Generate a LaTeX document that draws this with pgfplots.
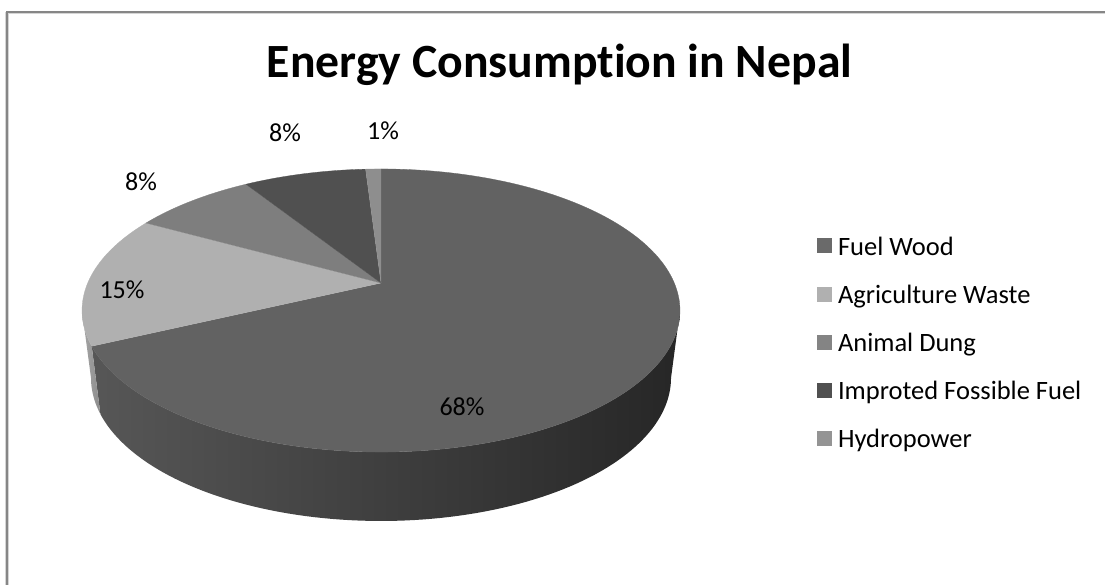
\documentclass[border=0pt]{standalone}
\usepackage{pgfplots}
\usepackage{pgfplotstable}
\usepackage{fontspec}
\setmainfont[Ligatures=NoCommon]{Carlito}
\pgfplotsset{compat=1.18}

% Shares of national energy use, clockwise from twelve o'clock
\pgfplotstableread{
value
68
15
8
8
1
}\shares

\definecolor{fuelwood}{HTML}{626262}
\definecolor{agriwaste}{HTML}{B0B0B0}
\definecolor{animaldung}{HTML}{7E7E7E}
\definecolor{fossil}{HTML}{505050}
\definecolor{hydro}{HTML}{8E8E8E}
\definecolor{framegray}{HTML}{868686}

% Perspective projection of the disc: far side is foreshortened
\def\persp{0.1943}

% Append points of a projected circular arc to a coordinate list.
% #1 list, #2 start angle, #3 end angle, #4 x radius, #5 y radius, #6 y centre
\newcommand\arcpoints[6]{%
  \pgfmathtruncatemacro\nseg{max(2,ceil(abs(#3-#2)/1.5))}%
  \foreach \i in {0,...,\nseg}{%
    \pgfmathsetmacro\ang{#2+(#3-#2)/\nseg*\i}%
    \pgfmathsetmacro\wgt{1+\persp*cos(\ang)}%
    \pgfmathsetmacro\ptx{381+#4*sin(\ang)/\wgt}%
    \pgfmathsetmacro\pty{#6-#5*cos(\ang)/\wgt}%
    \xdef#1{#1 (\ptx,\pty)}%
  }%
}
\gdef\cum{0}
% Build one wedge of the top face from a row of the table
\newcommand\buildslice[2]{%
  \pgfplotstablegetelem{#2}{value}\of\shares
  \pgfmathsetmacro\sliceend{\cum+3.6*\pgfplotsretval}%
  \gdef#1{(381,283)}%
  \arcpoints#1{\cum}{\sliceend}{293.3}{136.2}{283}%
  \xdef\cum{\sliceend}%
}
% Build one piece of the side wall between two angles
\newcommand\buildrim[3]{%
  \gdef#1{}%
  \arcpoints#1{#2}{#3}{293.3}{136.2}{283}%
  \arcpoints#1{#3}{#2}{284.5}{137.6}{350.2}%
}
\newcommand\plotlist[2]{%
  \edef\tmpplot{\noexpand\addplot[#1,forget plot] coordinates {#2};}\tmpplot
}

\begin{document}
\begin{tikzpicture}[x=1pt,y=1pt]
\buildslice\wedgeA{0}
\let\fuelend\cum
\buildslice\wedgeB{1}
\buildslice\wedgeC{2}
\buildslice\wedgeD{3}
\buildslice\wedgeE{4}
\buildrim\rimA{101.2}{\fuelend}
\buildrim\rimB{\fuelend}{258.8}
\path[use as bounding box] (0,0) rectangle (1105,585);
\begin{axis}[
  at={(0,0)}, anchor=south west,
  scale only axis, width=1105pt, height=585pt,
  xmin=0, xmax=1105, ymin=0, ymax=585, y dir=reverse,
  hide axis, clip=false,
  legend image code/.code={\fill[draw=none,#1] (0pt,-7.5pt) rectangle (15pt,7.5pt);},
  legend style={
    at={(axis cs:817,236.7)}, anchor=north west, draw=none, fill=none,
    inner sep=0pt, outer sep=0pt, font=\fontsize{26.5}{26.5}\selectfont,
    /tikz/row sep=29.7pt,
    nodes={inner sep=0pt, outer sep=0pt, text depth=0pt},
  },
  legend cell align=left,
]
% chart frame: top and left rules
\draw[framegray!35, line width=1pt] (axis cs:1105,13.5) -- (axis cs:8.5,13.5) -- (axis cs:8.5,585);
\draw[framegray!35, line width=1pt] (axis cs:5.5,585) -- (axis cs:5.5,12);
\draw[framegray, line width=2pt] (axis cs:1105,12) -- (axis cs:7,12) -- (axis cs:7,585);
% side wall
\plotlist{draw=none,left color=black!66,middle color=black!80,right color=black!85}{\rimA}
\plotlist{draw=none,left color=black!35,right color=black!45}{\rimB}
% top face
\plotlist{fill=fuelwood,draw=fuelwood,line width=0.3pt}{\wedgeA}
\plotlist{fill=agriwaste,draw=agriwaste,line width=0.3pt}{\wedgeB}
\plotlist{fill=animaldung,draw=animaldung,line width=0.3pt}{\wedgeC}
\plotlist{fill=fossil,draw=fossil,line width=0.3pt}{\wedgeD}
\plotlist{fill=hydro,draw=hydro,line width=0.3pt}{\wedgeE}
% legend
\addlegendimage{fill=fuelwood!95!white}
\addlegendentry{\hspace{6pt}Fuel Wood}
\addlegendimage{fill=agriwaste}
\addlegendentry{\hspace{6pt}Agriculture Waste}
\addlegendimage{fill=animaldung!95!white}
\addlegendentry{\hspace{6pt}Animal Dung}
\addlegendimage{fill=fossil}
\addlegendentry{\hspace{6pt}Improted Fossible Fuel}
\addlegendimage{fill=hydro!95!white}
\addlegendentry{\hspace{6pt}Hydropower}
% title and value labels
\node[font=\fontsize{47.7}{47.7}\selectfont\bfseries, black, anchor=base, inner sep=0pt] at (axis cs:559.5,77.7) {Energy Consumption in Nepal};
\node[font=\fontsize{26}{26}\selectfont, black] at (axis cs:462,407) {68\%};
\node[font=\fontsize{26}{26}\selectfont, black] at (axis cs:122,290) {15\%};
\node[font=\fontsize{26}{26}\selectfont, black] at (axis cs:141,182) {8\%};
\node[font=\fontsize{26}{26}\selectfont, black] at (axis cs:285,133) {8\%};
\node[font=\fontsize{26}{26}\selectfont, black] at (axis cs:383,131) {1\%};
\end{axis}
\end{tikzpicture}
\end{document}
